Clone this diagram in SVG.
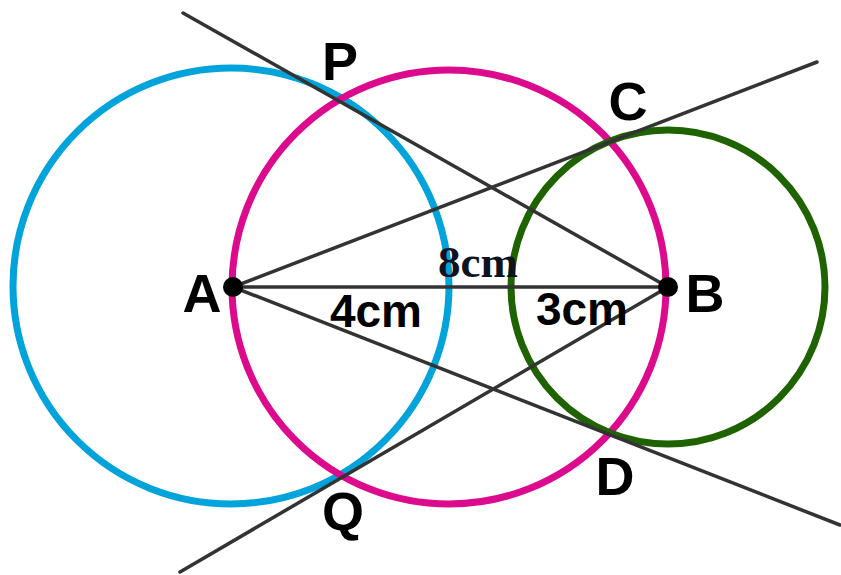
<svg xmlns="http://www.w3.org/2000/svg" width="841" height="575" viewBox="0 0 841 575">
<style>
.lbl{font-family:"Liberation Sans",Arial,sans-serif;font-weight:bold;font-size:54px;fill:#000;text-anchor:middle}
.len{font-family:"Liberation Sans",Arial,sans-serif;font-weight:bold;font-size:46px;fill:#000;text-anchor:middle}
.ser{font-family:"Liberation Serif","Times New Roman",serif;font-weight:bold;font-size:45px;fill:#0d1220;text-anchor:middle}
.ln{stroke:#333;stroke-width:3.5;stroke-linecap:round;fill:none}
.c{fill:none;stroke-width:7}
</style>
<rect width="841" height="575" fill="#fff"/>
<g id="circle-A"><circle class="c" cx="231" cy="286" r="218" stroke="#00a3da"/></g>
<g id="circle-AB"><circle class="c" cx="449" cy="287" r="217" stroke="#dc0a8c"/></g>
<g id="circle-B"><circle class="c" cx="668" cy="287" r="157" stroke="#1f6300"/></g>
<g id="connectors">
<line class="ln" x1="233" y1="287" x2="668" y2="287"/>
<line class="ln" x1="183" y1="13" x2="668" y2="287"/>
<line class="ln" x1="180" y1="572" x2="668" y2="287"/>
<line class="ln" x1="233" y1="287" x2="817" y2="62"/>
<line class="ln" x1="233" y1="287" x2="840" y2="525"/>
</g>
<g id="node-A"><circle cx="233" cy="287" r="10" fill="#000"/><text class="lbl" x="202" y="312">A</text></g>
<g id="node-B"><circle cx="668" cy="287" r="10" fill="#000"/><text class="lbl" x="705" y="312">B</text></g>
<g id="node-P"><text class="lbl" x="340" y="80">P</text></g>
<g id="node-C"><text class="lbl" x="628" y="120">C</text></g>
<g id="node-D"><text class="lbl" x="615" y="495">D</text></g>
<g id="node-Q"><text class="lbl" x="343" y="530">Q</text></g>
<g id="labels">
<text class="ser" x="478" y="277">8cm</text>
<text class="len" x="376" y="327">4cm</text>
<text class="len" x="582" y="325">3cm</text>
</g>
</svg>
